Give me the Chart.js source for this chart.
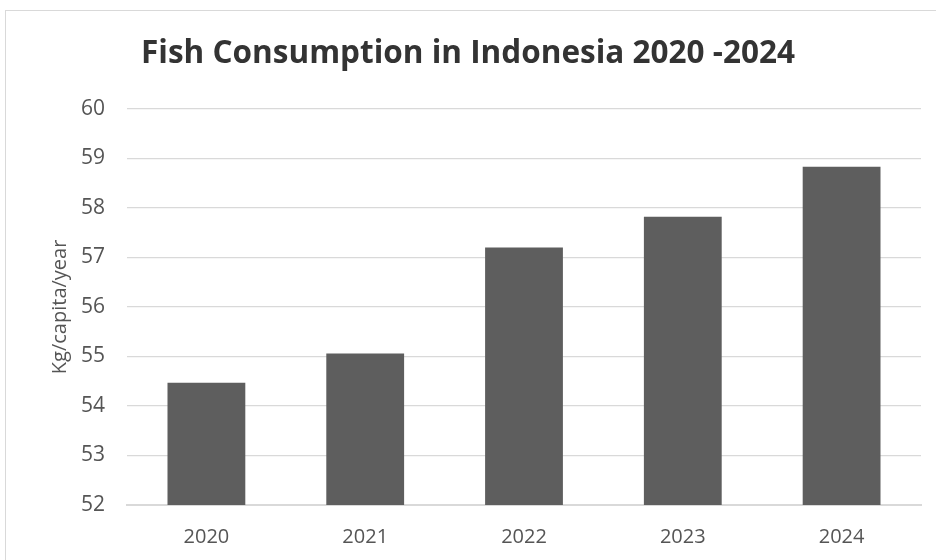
<!DOCTYPE html>
<html>
<head>
<meta charset="utf-8">
<script src="https://cdn.jsdelivr.net/npm/chart.js@4"></script>
<style>
  html, body { margin: 0; padding: 0; background: #fff; overflow: hidden; }
  #wrap { position: relative; width: 936px; height: 560px; }
  #frame { position: absolute; left: 5px; top: 10px; width: 950px; height: 600px; border: 1px solid #d9d9d9; box-sizing: border-box; }
  canvas { position: absolute; left: 0; top: 0; }
</style>
</head>
<body>
<div id="wrap">
  <div id="frame"></div>
  <canvas id="fishChart" width="936" height="560"></canvas>
</div>
<script>
var years = ['2020', '2021', '2022', '2023', '2024'];
var consumption = [54.47, 55.06, 57.2, 57.82, 58.83];
var yMin = 52;
var yMax = 60;

var ctx = document.getElementById('fishChart');
new Chart(ctx, {
  type: 'bar',
  data: {
    labels: years,
    datasets: [{
      label: 'Fish consumption',
      data: consumption,
      backgroundColor: '#5e5e5e',
      borderWidth: 0,
      categoryPercentage: 1,
      barPercentage: 0.49
    }]
  },
  options: {
    responsive: false,
    animation: false,
    layout: { padding: { left: 15, right: 15, top: 26, bottom: 0 } },
    plugins: {
      legend: { display: false },
      tooltip: { enabled: false },
      title: {
        display: true,
        text: 'Fish Consumption in Indonesia 2020 -2024',
        color: '#333333',
        font: { family: "'Open Sans', sans-serif", size: 31.5, weight: 'bold' },
        padding: { top: 9, bottom: 36 }
      }
    },
    scales: {
      x: {
        afterFit: function (scale) { scale.height = 55; },
        grid: { display: false, drawTicks: false },
        border: { display: true, color: '#d9d9d9', width: 2 },
        ticks: {
          color: '#555555',
          padding: 20,
          font: { family: "'Open Sans', sans-serif", size: 20 }
        }
      },
      y: {
        min: yMin,
        max: yMax,
        afterFit: function (scale) { scale.width = 112; },
        grid: { color: '#d9d9d9', lineWidth: 1.3, drawTicks: false },
        border: { display: false },
        ticks: {
          stepSize: 1,
          color: '#555555',
          padding: 22,
          font: { family: "'Open Sans', sans-serif", size: 21 }
        },
        title: {
          display: true,
          text: 'Kg/capita/year',
          color: '#555555',
          padding: { top: 33, bottom: 0 },
          font: { family: "'Open Sans', sans-serif", size: 20 }
        }
      }
    }
  }
});
</script>
</body>
</html>
